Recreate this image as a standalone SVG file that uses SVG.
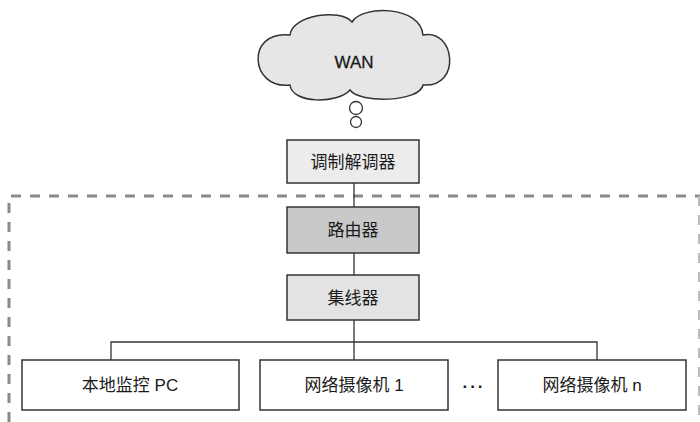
<svg xmlns="http://www.w3.org/2000/svg" width="700" height="422" viewBox="0 0 700 422">
<style>
.t{font-family:"Liberation Sans","Noto Sans CJK SC",sans-serif;font-size:17px;fill:#1a1a1a;text-anchor:middle;dominant-baseline:central}
.box{stroke:#333;stroke-width:1.5}
.ln{stroke:#333;stroke-width:1.3;fill:none}
</style>
<rect width="700" height="422" fill="#fff"/>
<path d="M9 422 V196 H700" fill="none" stroke="#8a8a8a" stroke-width="3" stroke-dasharray="10 9"/>
<path d="M699 196 V422" fill="none" stroke="#bdbdbd" stroke-width="2" stroke-dasharray="10 9"/>
<g id="connectors">
<line class="ln" x1="354" y1="183" x2="354" y2="207"/>
<line class="ln" x1="354" y1="253" x2="354" y2="275"/>
<line class="ln" x1="354" y1="320" x2="354" y2="360"/>
<polyline class="ln" points="111,360 111,342 597,342 597,360"/>
</g>
<g id="wan">
<path d="M290 35 C292 15 340 8 352 22 C362 5 420 5 423 35 C455 28 462 88 423 85 C420 102 360 104 350 90 C338 104 292 104 290 85 C250 90 245 30 290 35 Z" fill="#e6e6e6" stroke="#333" stroke-width="1.5"/>
<circle cx="356" cy="108" r="6.5" fill="#fff" stroke="#333" stroke-width="1.3"/>
<circle cx="356" cy="122" r="5.5" fill="#fff" stroke="#333" stroke-width="1.3"/>
<text class="t" x="354" y="62" style="stroke:#1a1a1a;stroke-width:0.3">WAN</text>
</g>
<g id="modem">
<rect class="box" x="287" y="140" width="132" height="43" fill="#ececec"/>
<text class="t" x="353" y="162">调制解调器</text>
</g>
<g id="router">
<rect class="box" x="287" y="207" width="132" height="46" fill="#c9c9c9"/>
<text class="t" x="353" y="230">路由器</text>
</g>
<g id="hub">
<rect class="box" x="287" y="275" width="132" height="45" fill="#e3e3e3"/>
<text class="t" x="353" y="298">集线器</text>
</g>
<g id="pc">
<rect class="box" x="22" y="360" width="217" height="50" fill="#fff"/>
<text class="t" x="130" y="385">本地监控 PC</text>
</g>
<g id="cam1">
<rect class="box" x="260" y="360" width="188" height="50" fill="#fff"/>
<text class="t" x="354" y="385">网络摄像机 1</text>
</g>
<g id="dots">
<text class="t" x="474" y="382" style="font-weight:bold;letter-spacing:3px">...</text>
</g>
<g id="camn">
<rect class="box" x="498" y="360" width="188" height="50" fill="#fff"/>
<text class="t" x="592" y="385">网络摄像机 n</text>
</g>
</svg>
